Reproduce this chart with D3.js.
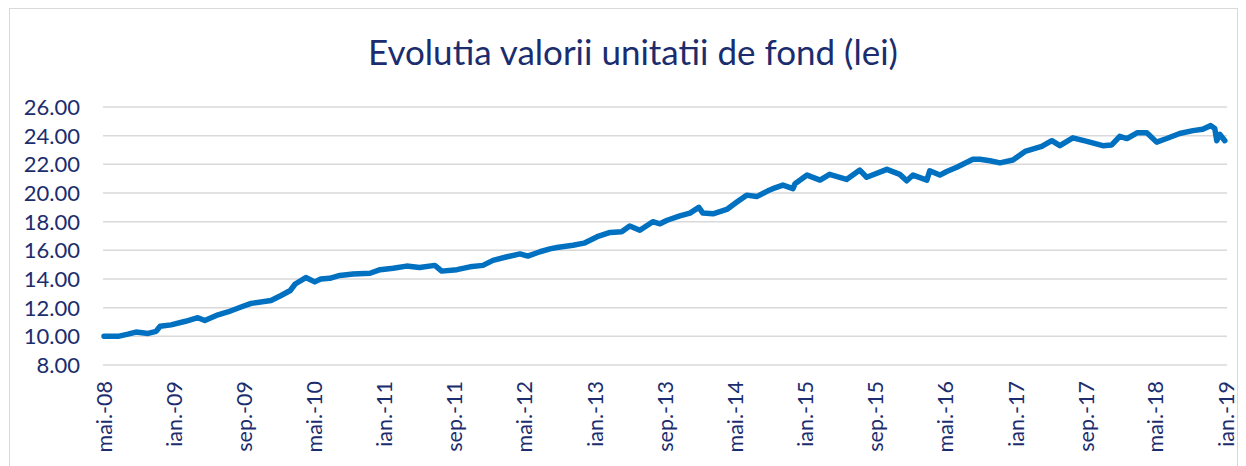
<!DOCTYPE html>
<html>
<head>
<meta charset="utf-8">
<script src="https://cdn.jsdelivr.net/npm/d3@7"></script>
<style>
  body { margin: 0; background: #fff; }
  svg { display: block; }
</style>
</head>
<body>
<div id="chart"></div>
<script>
// Evolutia valorii unitatii de fond (lei)

var width = 1246;
var height = 466;

var title = "Evolutia valorii unitatii de fond (lei)";

// values
var dates = [
  "2008-05-01","2008-06-19","2008-07-23","2008-08-20","2008-10-01","2008-10-29","2008-11-12","2008-12-20",
  "2009-02-08","2009-03-23","2009-04-16","2009-06-01","2009-07-05","2009-08-20","2009-09-24","2009-12-02",
  "2010-01-06","2010-02-07","2010-02-24","2010-04-02","2010-05-03","2010-05-24","2010-06-24","2010-07-29",
  "2010-09-13","2010-11-11","2010-12-16","2011-01-30","2011-03-18","2011-05-02","2011-06-24","2011-07-18",
  "2011-09-09","2011-10-24","2011-12-08","2012-01-12","2012-03-01","2012-04-15","2012-05-12","2012-06-23",
  "2012-07-28","2012-08-21","2012-10-16","2012-11-23","2013-01-08","2013-02-22","2013-04-03","2013-05-01",
  "2013-06-05","2013-07-20","2013-08-14","2013-09-08","2013-10-22","2013-11-26","2013-12-27","2014-01-10",
  "2014-02-14","2014-04-03","2014-05-07","2014-06-11","2014-07-16","2014-08-24","2014-09-10","2014-10-15",
  "2014-11-19","2014-11-26","2015-01-07","2015-02-21","2015-03-26","2015-05-24","2015-07-09","2015-08-02",
  "2015-10-11","2015-11-25","2015-12-19","2016-01-10","2016-02-27","2016-03-08","2016-04-12","2016-05-06",
  "2016-06-10","2016-08-05","2016-08-29","2016-10-03","2016-11-07","2016-12-22","2017-02-02","2017-04-01",
  "2017-05-06","2017-06-03","2017-07-18","2017-09-05","2017-10-30","2017-11-30","2017-12-28","2018-01-22",
  "2018-02-26","2018-04-01","2018-05-05","2018-06-09","2018-07-24","2018-09-08","2018-10-12","2018-11-09",
  "2018-11-23","2018-11-30","2018-12-10","2018-12-28"
];
var values = [
  10.0, 10.0, 10.15, 10.3, 10.2, 10.35, 10.7, 10.8,
  11.05, 11.3, 11.1, 11.5, 11.7, 12.05, 12.3, 12.5,
  12.85, 13.2, 13.65, 14.1, 13.8, 14.0, 14.05, 14.25,
  14.35, 14.4, 14.65, 14.75, 14.9, 14.8, 14.95, 14.55,
  14.65, 14.85, 14.95, 15.3, 15.55, 15.75, 15.6, 15.9,
  16.1, 16.2, 16.35, 16.5, 16.95, 17.25, 17.3, 17.7,
  17.4, 18.0, 17.85, 18.1, 18.4, 18.6, 19.0, 18.6,
  18.55, 18.85, 19.35, 19.85, 19.75, 20.15, 20.3, 20.55,
  20.3, 20.65, 21.25, 20.9, 21.3, 20.95, 21.6, 21.1,
  21.65, 21.3, 20.85, 21.25, 20.9, 21.55, 21.25, 21.5,
  21.8, 22.35, 22.35, 22.25, 22.1, 22.3, 22.9, 23.25,
  23.65, 23.3, 23.85, 23.6, 23.3, 23.35, 23.95, 23.8,
  24.2, 24.2, 23.55, 23.8, 24.15, 24.35, 24.45, 24.7,
  24.5, 23.65, 24.1, 23.65
];

var yTicks = [8, 10, 12, 14, 16, 18, 20, 22, 24, 26];
var tickDates = ["2008-05-01","2009-01-01","2009-09-01","2010-05-01","2011-01-01","2011-09-01",
  "2012-05-01","2013-01-01","2013-09-01","2014-05-01","2015-01-01","2015-09-01","2016-05-01",
  "2017-01-01","2017-09-01","2018-05-01","2019-01-01"];
var tickLabels = ["mai.-08","ian.-09","sep.-09","mai.-10","ian.-11","sep.-11","mai.-12","ian.-13",
  "sep.-13","mai.-14","ian.-15","sep.-15","mai.-16","ian.-17","sep.-17","mai.-18","ian.-19"];

var parse = d3.timeParse("%Y-%m-%d");
var points = dates.map(function(d, i) { return { date: parse(d), value: values[i] }; });

var textColor = "#1b2d6e";
var fontFamily = "Lato, 'Open Sans', sans-serif";

var svg = d3.select("#chart")
            .append("svg")
            .attr("width", width)
            .attr("height", height);

// outer frame
svg.append("rect")
   .attr("x", 9.5).attr("y", 8.5)
   .attr("width", 1228).attr("height", 470)
   .attr("fill", "none")
   .attr("stroke", "#d9d9d9")
   .attr("stroke-width", 1);

svg.append("text")
   .attr("x", 633)
   .attr("y", 65)
   .attr("text-anchor", "middle")
   .attr("fill", textColor)
   .style("font-family", fontFamily)
   .style("font-size", "35px")
   .text(title);

var x = d3.scaleTime()
          .domain([parse("2008-05-01"), parse("2019-01-01")])
          .range([104, 1226]);

var y = d3.scaleLinear()
          .domain([8, 26])
          .range([365, 107]);

// gridlines
svg.append("g")
   .selectAll("line")
   .data(yTicks)
   .enter()
   .append("line")
   .attr("x1", 103)
   .attr("x2", 1227)
   .attr("y1", function(d) { return y(d); })
   .attr("y2", function(d) { return y(d); })
   .attr("stroke", "#d9d9d9")
   .attr("stroke-width", 1.5);

// y labels
svg.append("g")
   .selectAll("text")
   .data(yTicks)
   .enter()
   .append("text")
   .attr("x", 80)
   .attr("y", function(d) { return y(d); })
   .attr("dy", "0.36em")
   .attr("text-anchor", "end")
   .attr("fill", textColor)
   .style("font-family", fontFamily)
   .style("font-size", "22px")
   .text(function(d) { return d3.format(".2f")(d); });

// x labels, rotated
svg.append("g")
   .selectAll("text")
   .data(tickDates)
   .enter()
   .append("text")
   .attr("transform", function(d) { return "translate(" + x(parse(d)) + ",381) rotate(-90)"; })
   .attr("dy", "0.36em")
   .attr("text-anchor", "end")
   .attr("fill", textColor)
   .style("font-family", fontFamily)
   .style("font-size", "21.5px")
   .text(function(d, i) { return tickLabels[i]; });

// the series
var line = d3.line()
             .x(function(d) { return x(d.date); })
             .y(function(d) { return y(d.value); });

svg.append("path")
   .datum(points)
   .attr("d", line)
   .attr("fill", "none")
   .attr("stroke", "#0070c0")
   .attr("stroke-width", 5.5)
   .attr("stroke-linejoin", "round")
   .attr("stroke-linecap", "round");
</script>
</body>
</html>
